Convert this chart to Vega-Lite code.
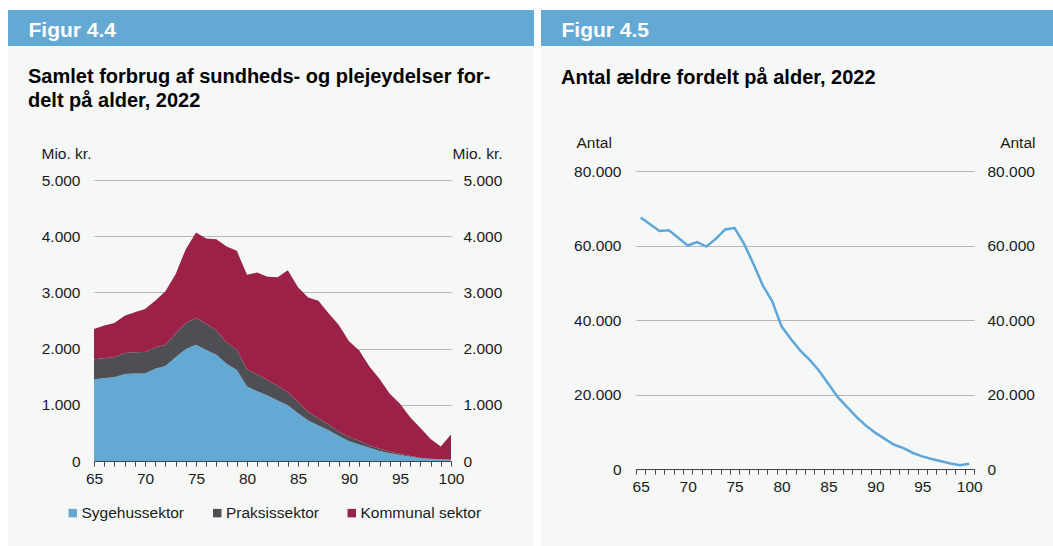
{
  "$schema": "https://vega.github.io/schema/vega-lite/v6.json",
  "background": "#f6f8f8",
  "padding": 0,
  "spacing": 0,
  "config": {
    "font": "Liberation Sans",
    "view": {"stroke": null},
    "locale": {"number": {"decimal": ",", "thousands": ".", "grouping": [3], "currency": ["", " kr."]}},
    "axis": {"labelFont": "Liberation Sans", "labelFontSize": 15.5, "labelColor": "#1a1a1a", "titleFont": "Liberation Sans", "titleFontSize": 15.5, "titleFontWeight": "normal", "titleColor": "#1a1a1a"},
    "legend": {"labelFont": "Liberation Sans", "labelFontSize": 15.5, "labelColor": "#1a1a1a"}
  },
  "datasets": {
    "cost": [
      {"age": 65, "Sygehussektor": 1450, "Praksissektor": 360, "Kommunal sektor": 540},
      {"age": 66, "Sygehussektor": 1475, "Praksissektor": 355, "Kommunal sektor": 580},
      {"age": 67, "Sygehussektor": 1490, "Praksissektor": 360, "Kommunal sektor": 605},
      {"age": 68, "Sygehussektor": 1550, "Praksissektor": 370, "Kommunal sektor": 665},
      {"age": 69, "Sygehussektor": 1555, "Praksissektor": 380, "Kommunal sektor": 710},
      {"age": 70, "Sygehussektor": 1555, "Praksissektor": 385, "Kommunal sektor": 765},
      {"age": 71, "Sygehussektor": 1640, "Praksissektor": 380, "Kommunal sektor": 830},
      {"age": 72, "Sygehussektor": 1690, "Praksissektor": 380, "Kommunal sektor": 950},
      {"age": 73, "Sygehussektor": 1845, "Praksissektor": 425, "Kommunal sektor": 1055},
      {"age": 74, "Sygehussektor": 1995, "Praksissektor": 460, "Kommunal sektor": 1315},
      {"age": 75, "Sygehussektor": 2070, "Praksissektor": 475, "Kommunal sektor": 1520},
      {"age": 76, "Sygehussektor": 1975, "Praksissektor": 465, "Kommunal sektor": 1520},
      {"age": 77, "Sygehussektor": 1890, "Praksissektor": 430, "Kommunal sektor": 1625},
      {"age": 78, "Sygehussektor": 1730, "Praksissektor": 380, "Kommunal sektor": 1705},
      {"age": 79, "Sygehussektor": 1620, "Praksissektor": 360, "Kommunal sektor": 1760},
      {"age": 80, "Sygehussektor": 1325, "Praksissektor": 305, "Kommunal sektor": 1685},
      {"age": 81, "Sygehussektor": 1240, "Praksissektor": 300, "Kommunal sektor": 1815},
      {"age": 82, "Sygehussektor": 1165, "Praksissektor": 275, "Kommunal sektor": 1840},
      {"age": 83, "Sygehussektor": 1075, "Praksissektor": 265, "Kommunal sektor": 1930},
      {"age": 84, "Sygehussektor": 990, "Praksissektor": 235, "Kommunal sektor": 2170},
      {"age": 85, "Sygehussektor": 850, "Praksissektor": 200, "Kommunal sektor": 2040},
      {"age": 86, "Sygehussektor": 720, "Praksissektor": 150, "Kommunal sektor": 2040},
      {"age": 87, "Sygehussektor": 630, "Praksissektor": 130, "Kommunal sektor": 2090},
      {"age": 88, "Sygehussektor": 545, "Praksissektor": 105, "Kommunal sektor": 1980},
      {"age": 89, "Sygehussektor": 445, "Praksissektor": 75, "Kommunal sektor": 1900},
      {"age": 90, "Sygehussektor": 350, "Praksissektor": 80, "Kommunal sektor": 1700},
      {"age": 91, "Sygehussektor": 295, "Praksissektor": 65, "Kommunal sektor": 1605},
      {"age": 92, "Sygehussektor": 235, "Praksissektor": 45, "Kommunal sektor": 1400},
      {"age": 93, "Sygehussektor": 180, "Praksissektor": 40, "Kommunal sektor": 1240},
      {"age": 94, "Sygehussektor": 140, "Praksissektor": 25, "Kommunal sektor": 1030},
      {"age": 95, "Sygehussektor": 105, "Praksissektor": 25, "Kommunal sektor": 890},
      {"age": 96, "Sygehussektor": 75, "Praksissektor": 15, "Kommunal sektor": 690},
      {"age": 97, "Sygehussektor": 50, "Praksissektor": 10, "Kommunal sektor": 525},
      {"age": 98, "Sygehussektor": 35, "Praksissektor": 5, "Kommunal sektor": 350},
      {"age": 99, "Sygehussektor": 25, "Praksissektor": 5, "Kommunal sektor": 230},
      {"age": 100, "Sygehussektor": 20, "Praksissektor": 5, "Kommunal sektor": 445}
    ],
    "pop": [
      {"age": 65, "antal": 67500}, {"age": 66, "antal": 65700}, {"age": 67, "antal": 63900},
      {"age": 68, "antal": 64100}, {"age": 69, "antal": 62100}, {"age": 70, "antal": 60000},
      {"age": 71, "antal": 60900}, {"age": 72, "antal": 59700}, {"age": 73, "antal": 61800},
      {"age": 74, "antal": 64300}, {"age": 75, "antal": 64700}, {"age": 76, "antal": 60500},
      {"age": 77, "antal": 55100}, {"age": 78, "antal": 49300}, {"age": 79, "antal": 45100},
      {"age": 80, "antal": 38300}, {"age": 81, "antal": 34900}, {"age": 82, "antal": 31800},
      {"age": 83, "antal": 29300}, {"age": 84, "antal": 26400}, {"age": 85, "antal": 22800},
      {"age": 86, "antal": 19300}, {"age": 87, "antal": 16600}, {"age": 88, "antal": 13900},
      {"age": 89, "antal": 11600}, {"age": 90, "antal": 9700}, {"age": 91, "antal": 8100},
      {"age": 92, "antal": 6500}, {"age": 93, "antal": 5600}, {"age": 94, "antal": 4300},
      {"age": 95, "antal": 3400}, {"age": 96, "antal": 2700}, {"age": 97, "antal": 2100},
      {"age": 98, "antal": 1500}, {"age": 99, "antal": 1000}, {"age": 100, "antal": 1400}
    ]
  },
  "hconcat": [
    {"width": 8, "height": 546, "data": {"values": []}, "mark": "point", "view": {"fill": "white", "stroke": null}},
    {
      "spacing": 0,
      "bounds": "flush",
      "vconcat": [
        {"width": 526, "height": 10, "data": {"values": []}, "mark": "point", "view": {"fill": "white", "stroke": null}},
        {"width": 526, "height": 36, "data": {"values": [{}]}, "mark": {"type": "point", "opacity": 0, "size": 1}, "view": {"fill": "#63a9d4", "stroke": null},
         "encoding": {"x": {"datum": 0.5, "type": "quantitative", "scale": {"domain": [0, 1]}, "axis": {"orient": "top", "domain": false, "ticks": false, "labels": false, "grid": false,
           "title": "Figur 4.4", "titleAngle": 0, "titleAlign": "left", "titleAnchor": "start", "titleX": 20, "titleY": 26, "titleBaseline": "alphabetic",
           "titleColor": "white", "titleFontSize": 21, "titleFontWeight": "bold"}}}},
        {"width": 526, "height": 134, "data": {"values": []}, "mark": "point"},
        {
          "spacing": 0,
          "bounds": "flush",
          "hconcat": [
            {"width": 86, "height": 1, "data": {"values": []}, "mark": "point"},
            {
              "width": 357,
              "height": 281,
              "title": {"text": ["Samlet forbrug af sundheds- og plejeydelser for-", "delt på alder, 2022"], "anchor": "start", "frame": "group", "dx": -66, "offset": 20, "baseline": "alphabetic", "lineHeight": 24, "fontSize": 20, "fontWeight": "bold", "color": "#000000", "font": "Liberation Sans"},
              "layer": [
                {
                  "data": {"name": "cost"},
                  "transform": [{"fold": ["Sygehussektor", "Praksissektor", "Kommunal sektor"], "as": ["sektor", "value"]}],
                  "mark": {"type": "area", "interpolate": "linear"},
                  "encoding": {
                    "x": {"field": "age", "type": "quantitative", "scale": {"domain": [65, 100], "nice": false, "zero": false},
                      "axis": {"values": [65,66,67,68,69,70,71,72,73,74,75,76,77,78,79,80,81,82,83,84,85,86,87,88,89,90,91,92,93,94,95,96,97,98,99,100],
                        "labelExpr": "datum.value % 5 === 0 ? datum.label : ''", "labelFlush": false, "labelOverlap": false, "labelAngle": 0,
                        "grid": false, "domainColor": "#444444", "tickColor": "#444444", "tickSize": 5, "labelPadding": 5, "title": null, "zindex": 1}},
                    "y": {"field": "value", "type": "quantitative", "stack": "zero", "scale": {"domain": [0, 5000], "nice": false},
                      "axis": {"orient": "left", "values": [0, 1000, 2000, 3000, 4000, 5000], "format": ",d", "grid": true, "gridColor": "#b5b5b5", "gridWidth": 1,
                        "domain": false, "ticks": false, "tickSize": 0, "labelPadding": 14, "title": "Mio. kr.", "titleAngle": 0, "titleAlign": "left",
                        "titleX": -53, "titleY": -21.5, "titleBaseline": "alphabetic"}},
                    "color": {"field": "sektor", "type": "nominal",
                      "scale": {"domain": ["Sygehussektor", "Praksissektor", "Kommunal sektor"], "range": ["#63a9d4", "#4e4f55", "#9b2246"]},
                      "legend": {"orient": "none", "legendX": 65, "legendY": 505, "direction": "horizontal", "title": null, "symbolType": "square",
                        "symbolSize": 72, "symbolStrokeWidth": 0, "labelOffset": 1, "columnPadding": 24.5, "padding": 0}},
                    "order": {"field": "sektor", "sort": "descending"}
                  }
                },
                {
                  "data": {"values": [{}]},
                  "mark": {"type": "rule", "opacity": 0},
                  "encoding": {
                    "y": {"datum": 0, "type": "quantitative", "scale": {"domain": [0, 5000], "nice": false},
                      "axis": {"orient": "right", "values": [0, 1000, 2000, 3000, 4000, 5000], "format": ",d", "grid": false, "domain": false,
                        "ticks": false, "tickSize": 0, "labelPadding": 12, "title": "Mio. kr.", "titleAngle": 0, "titleAlign": "right",
                        "titleX": 51, "titleY": -21.5, "titleBaseline": "alphabetic"}}
                  }
                }
              ],
              "resolve": {"scale": {"y": "independent"}}
            }
          ]
        }
      ]
    },
    {"width": 7, "height": 546, "data": {"values": []}, "mark": "point", "view": {"fill": "white", "stroke": null}},
    {
      "spacing": 0,
      "bounds": "flush",
      "vconcat": [
        {"width": 512, "height": 10, "data": {"values": []}, "mark": "point", "view": {"fill": "white", "stroke": null}},
        {"width": 512, "height": 36, "data": {"values": [{}]}, "mark": {"type": "point", "opacity": 0, "size": 1}, "view": {"fill": "#63a9d4", "stroke": null},
         "encoding": {"x": {"datum": 0.5, "type": "quantitative", "scale": {"domain": [0, 1]}, "axis": {"orient": "top", "domain": false, "ticks": false, "labels": false, "grid": false,
           "title": "Figur 4.5", "titleAngle": 0, "titleAlign": "left", "titleAnchor": "start", "titleX": 20, "titleY": 26, "titleBaseline": "alphabetic",
           "titleColor": "white", "titleFontSize": 21, "titleFontWeight": "bold"}}}},
        {"width": 512, "height": 125, "data": {"values": []}, "mark": "point"},
        {
          "spacing": 0,
          "bounds": "flush",
          "hconcat": [
            {"width": 95, "height": 1, "data": {"values": []}, "mark": "point"},
            {
              "width": 338,
              "height": 298,
              "title": {"text": "Antal ældre fordelt på alder, 2022", "anchor": "start", "frame": "group", "dx": -75, "offset": 32, "baseline": "alphabetic", "fontSize": 20, "fontWeight": "bold", "color": "#000000", "font": "Liberation Sans"},
              "layer": [
                {
                  "data": {"name": "pop"},
                  "mark": {"type": "line", "color": "#5ea7d8", "strokeWidth": 2.5},
                  "encoding": {
                    "x": {"field": "age", "type": "ordinal", "scale": {"type": "band", "paddingInner": 0, "paddingOuter": 0},
                      "axis": {"labelExpr": "datum.value % 5 === 0 ? datum.label : ''", "labelOverlap": false, "labelAngle": 0, "tickBand": "extent",
                        "grid": false, "domainColor": "#444444", "tickColor": "#444444", "tickSize": 5, "labelPadding": 5, "title": null, "zindex": 1}},
                    "y": {"field": "antal", "type": "quantitative", "scale": {"domain": [0, 80000], "nice": false},
                      "axis": {"orient": "left", "values": [0, 20000, 40000, 60000, 80000], "format": ",d", "grid": true, "gridColor": "#b5b5b5", "gridWidth": 1,
                        "domain": false, "ticks": false, "tickSize": 0, "labelPadding": 15, "title": "Antal", "titleAngle": 0, "titleAlign": "left",
                        "titleX": -60, "titleY": -23.5, "titleBaseline": "alphabetic"}}
                  }
                },
                {
                  "data": {"values": [{}]},
                  "mark": {"type": "rule", "opacity": 0},
                  "encoding": {
                    "y": {"datum": 0, "type": "quantitative", "scale": {"domain": [0, 80000], "nice": false},
                      "axis": {"orient": "right", "values": [0, 20000, 40000, 60000, 80000], "format": ",d", "grid": false, "domain": false,
                        "ticks": false, "tickSize": 0, "labelPadding": 13, "title": "Antal", "titleAngle": 0, "titleAlign": "right",
                        "titleX": 61, "titleY": -23.5, "titleBaseline": "alphabetic"}}
                  }
                }
              ],
              "resolve": {"scale": {"y": "independent"}}
            }
          ]
        }
      ]
    }
  ]
}
